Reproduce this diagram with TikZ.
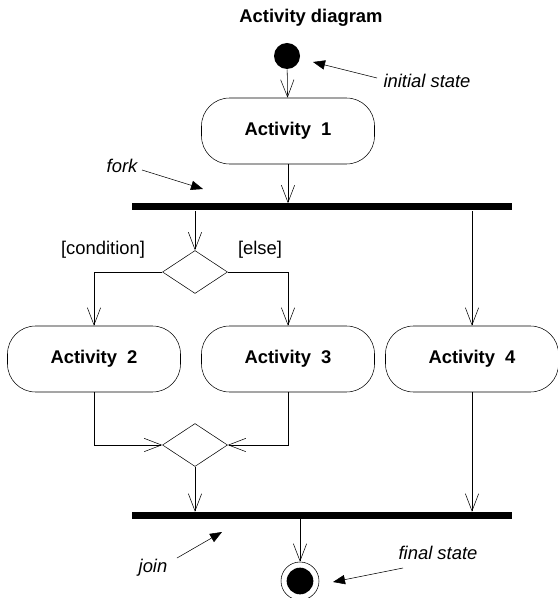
\documentclass[tikz,border=0pt]{standalone}
\usepackage{fontspec}
\setmainfont{Liberation Sans}
\usetikzlibrary{arrows.meta,shapes.geometric,positioning}
\begin{document}
\begin{tikzpicture}[x=0.75pt,y=-0.75pt,
  every node/.style={font=\fontsize{13.8}{16}\selectfont},
  act/.style={draw, rounded corners=21pt, minimum width=129.75pt, minimum height=49.5pt, font=\fontsize{13.8}{16}\selectfont\bfseries},
  bar/.style={fill=black, inner sep=0pt, minimum width=285pt, minimum height=5.25pt},
  choice/.style={draw, diamond, inner sep=0pt, minimum width=48.75pt, minimum height=32.25pt},
  flow/.style={-{Straight Barb[length=13pt,width=10pt]}},
  pointer/.style={-{Triangle[length=9pt,width=7pt]}},
  remark/.style={font=\fontsize{13.8}{16}\selectfont\itshape}]
\useasboundingbox (0,0) rectangle (557,598);
% Title
\node[font=\fontsize{13.8}{16}\selectfont\bfseries] (title) at (311,18) {Activity diagram};
% Start, fork, branch
\node[circle, fill, inner sep=0pt, minimum size=19.5pt] (start) at (287,56) {};
\node[act] (a1) at (288,131) {Activity\ \ 1};
\node[bar] (fork) at (322,207) {};
\node[choice] (branch) at (195,272) {};
% Activities 2-4
\foreach \n/\x in {2/94, 3/288, 4/472}
  \node[act] (a\n) at (\x,359) {Activity\ \ \n};
% Merge, join, final
\node[choice] (merge) at (195,445) {};
\node[bar] (join) at (322,515.5) {};
\node[circle, draw, inner sep=0pt, minimum size=28.5pt] (final) at (300,581) {};
\node[circle, fill, inner sep=0pt, minimum size=20pt] (finaldot) at (final) {};
% Flows
\draw[flow] (start) -- (a1);
\draw[flow] (a1) -- (a1 |- fork.north);
\draw[flow] (fork.south -| branch) -- (branch);
\draw[flow] (branch.west) -| (a2);
\draw[flow] (branch.east) -| (a3);
\draw[flow] (fork.south -| a4) -- (a4);
\draw[flow] (a2) |- (merge.west);
\draw[flow] (a3) |- (merge.east);
\draw[flow] (merge) -- (merge |- join.north);
\draw[flow] (a4) -- (a4 |- join.north);
\draw[flow] (join.south -| final) -- (final);
% Guards
\node (cond) at (103,250) {[condition]};
\node (else) at (260,250) {[else]};
% Remarks
\node[remark] (initlab) at (427,81) {initial state};
\node[remark] (forklab) at (122,166) {fork};
\node[remark] (joinlab) at (153,568) {join};
\node[remark] (finallab) at (438,553) {final state};
\coordinate (inittail) at (377,78);
\coordinate (inittip) at (313,62);
\coordinate (forktail) at (142,170);
\coordinate (forktip) at (203,189);
\coordinate (jointail) at (177,558);
\coordinate (jointip) at (222,532);
\coordinate (finaltail) at (403,568);
\coordinate (finaltip) at (333,582);
\draw[pointer] (inittail) -- (inittip);
\draw[pointer] (forktail) -- (forktip);
\draw[pointer] (jointail) -- (jointip);
\draw[pointer] (finaltail) -- (finaltip);
\end{tikzpicture}
\end{document}
